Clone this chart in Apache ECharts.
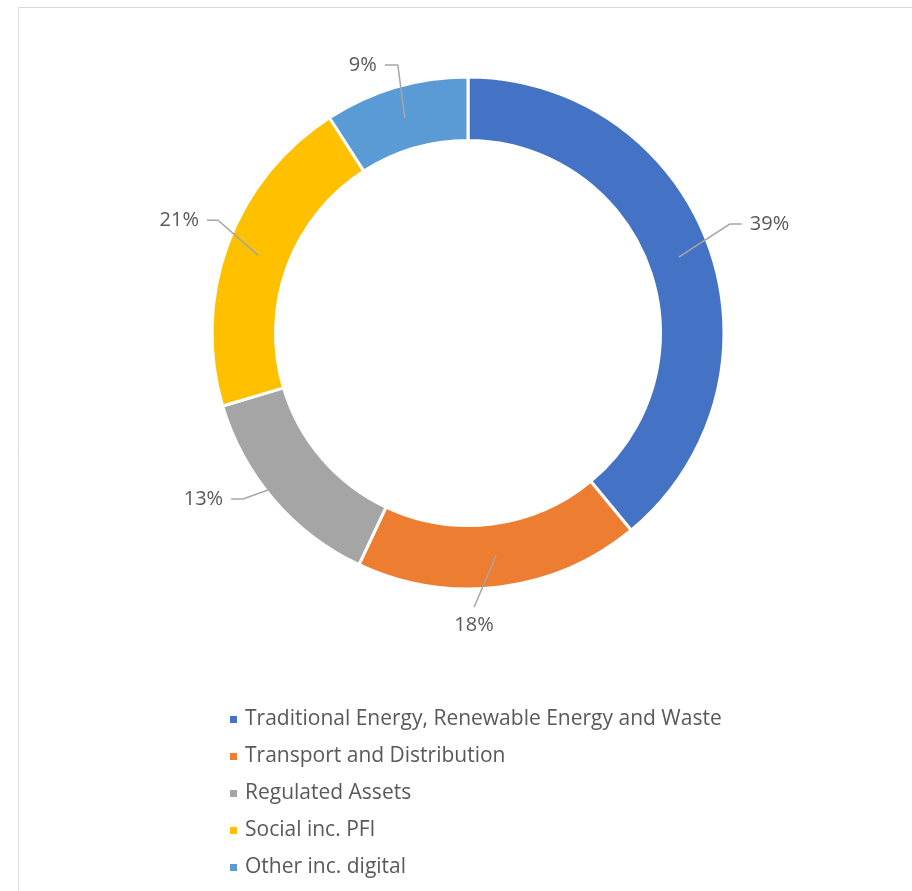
<!DOCTYPE html>
<html>
<head>
<meta charset="utf-8">
<script src="https://cdn.jsdelivr.net/npm/echarts@6/dist/echarts.min.js"></script>
<style>
html,body{margin:0;padding:0;background:#fff;}
#chart{width:912px;height:891px;}
</style>
</head>
<body>
<div id="chart"></div>
<script>
// ---- data ----
const categories = [
  'Traditional Energy, Renewable Energy and Waste',
  'Transport and Distribution',
  'Regulated Assets',
  'Social inc. PFI',
  'Other inc. digital'
];
const shares = [39.0, 18.0, 13.4, 20.5, 9.1];
const colors = ['#4472C4', '#ED7D31', '#A5A5A5', '#FFC000', '#5B9BD5'];

// ---- label leader-line styling (offsets from the library-computed anchor) ----
const labelBend = [[51, -33], [-22, 52], [-55, 20], [-40, -35], [-7, -53]];
const labelTail = [12, 0, -12, -11, -13];
const labelGap = 8;

const FONT = 'Open Sans';
const TEXT = '#595959';
const center = [468, 333];

const chart = echarts.init(document.getElementById('chart'), null, {renderer: 'canvas'});

const pieData = categories.map((c, i) => ({name: c, value: shares[i], itemStyle: {color: colors[i]}}));

chart.setOption({
  animation: false,
  backgroundColor: '#ffffff',
  graphic: [{
    type: 'rect',
    shape: {x: 18.5, y: 7.5, width: 1000, height: 1000},
    style: {fill: 'none', stroke: '#D9D9D9', lineWidth: 1},
    silent: true, z: -10
  }],
  legend: {
    orient: 'vertical',
    left: 223,
    top: 704,
    itemWidth: 9,
    itemHeight: 9,
    itemGap: 16,
    icon: 'rect',
    selectedMode: false,
    textStyle: {fontFamily: FONT, fontSize: 21, color: TEXT, lineHeight: 20, padding: [0, 0, 0, 2]},
    data: categories
  },
  series: [
    {
      type: 'pie',
      name: 'ring',
      center: center,
      radius: [192.5, 256],
      startAngle: 90,
      clockwise: true,
      silent: true,
      label: {show: false},
      labelLine: {show: false},
      itemStyle: {borderColor: '#ffffff', borderWidth: 3},
      emphasis: {disabled: true},
      data: pieData
    },
    {
      type: 'pie',
      name: 'labels',
      center: center,
      radius: [0, 224],
      startAngle: 90,
      clockwise: true,
      silent: true,
      z: 5,
      avoidLabelOverlap: false,
      itemStyle: {color: 'rgba(0,0,0,0)', borderWidth: 0},
      emphasis: {disabled: true},
      label: {
        show: true,
        position: 'outside',
        fontFamily: FONT,
        fontSize: 20,
        color: TEXT,
        formatter: p => Math.round(p.percent) + '%'
      },
      labelLine: {show: true, length: 10, length2: 10, lineStyle: {color: '#A6A6A6', width: 1.5}},
      labelLayout: function (params) {
        const i = params.dataIndex;
        const a = params.labelLinePoints[0];
        const b = [a[0] + labelBend[i][0], a[1] + labelBend[i][1]];
        const e = [b[0] + labelTail[i], b[1]];
        let x, y, align, va;
        if (labelTail[i] > 0) { x = e[0] + labelGap; y = e[1]; align = 'left'; va = 'middle'; }
        else if (labelTail[i] < 0) { x = e[0] - labelGap; y = e[1]; align = 'right'; va = 'middle'; }
        else { x = e[0]; y = e[1] + labelGap; align = 'center'; va = 'top'; }
        return {x: x, y: y, align: align, verticalAlign: va, labelLinePoints: [a, b, e]};
      },
      data: categories.map((c, i) => ({name: c, value: shares[i]}))
    }
  ]
});
</script>
</body>
</html>
